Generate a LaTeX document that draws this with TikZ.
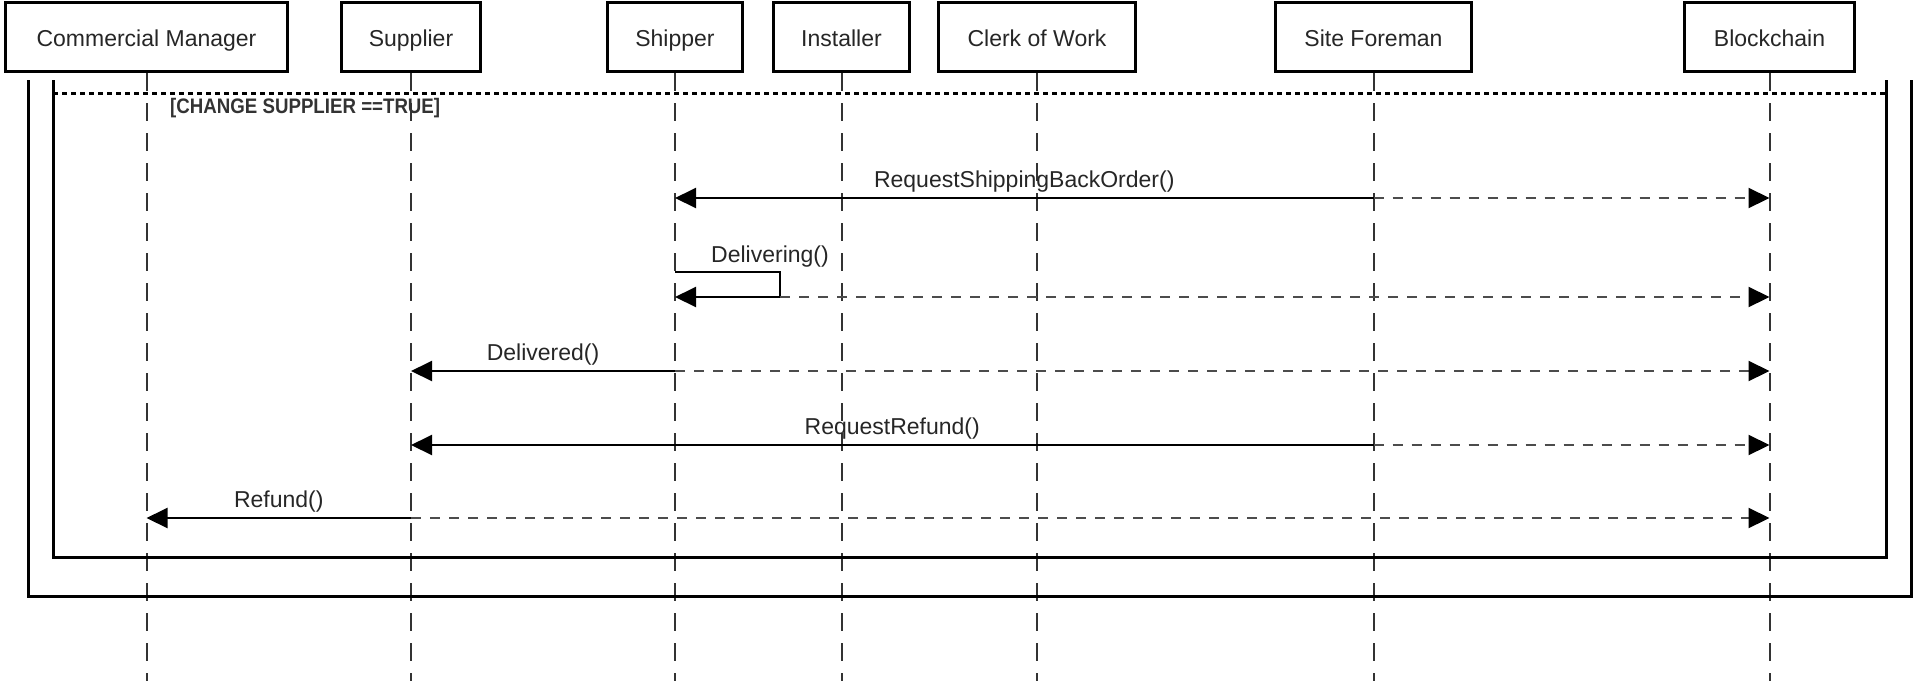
\documentclass[tikz,border=0pt]{standalone}
\usepackage{fontspec}
\setmainfont{Liberation Sans}
\newfontfamily\guardfont[FakeStretch=0.89]{Liberation Sans}
\usetikzlibrary{positioning, arrows.meta}

\begin{document}
\begin{tikzpicture}
        [
            x=1pt, y=-1pt,
            actor/.style = {draw, black, line width=3pt, minimum height=69pt, inner sep=0pt, text height=24pt, text depth=4.6pt, text=black!85, font=\fontsize{23}{27}\selectfont},
            lifeline/.style = {draw=black!80, line width=2pt, dash pattern=on 18pt off 12pt},
            frame/.style = {draw, black, line width=3pt},
            guardline/.style = {draw, black, line width=3pt, dash pattern=on 5pt off 4pt},
            msg/.style = {-{Triangle[length=21pt, width=20pt, black]}, line width=2pt, black},
            note/.style = {msg, draw=black!70, dash pattern=on 10pt off 9pt},
            msgtext/.style = {inner sep=0pt, text=black!85, font=\fontsize{23}{27}\selectfont},
            guard/.style = {inner sep=0pt, text=black!80, font=\guardfont\bfseries\fontsize{21}{25}\selectfont}
        ]%
        \useasboundingbox (0,0) rectangle (1913,681);
        \node[actor, minimum width=282pt] (cm) at (146.5,37) {Commercial Manager};
        \node[actor, minimum width=139pt, right=51pt of cm] (supplier) {Supplier};
        \node[actor, minimum width=135pt, right=124pt of supplier] (shipper) {Shipper};
        \node[actor, minimum width=136pt, right=28pt of shipper] (installer) {Installer};
        \node[actor, minimum width=197pt, right=26pt of installer] (clerk) {Clerk of Work};
        \node[actor, minimum width=196pt, right=137pt of clerk] (foreman) {Site Foreman};
        \node[actor, minimum width=170pt, right=210pt of foreman] (chain) {Blockchain};
        \coordinate (base) at (0,681);
        \foreach \p in {cm, supplier, shipper, installer, clerk, foreman, chain}
            \draw[lifeline] (\p.south) -- (\p.south |- base);
        % frames
        \draw[frame] (28,80) |- (1911,596) -- (1911,80);
        \draw[frame] (53,80) |- (1886,557) -- (1886,80);
        \draw[guardline] (53,93) -- (1886,93);
        \node[guard, anchor=west] (cond) at (170,108) {[CHANGE SUPPLIER ==TRUE]};
        % messages
        \coordinate (r1) at (0,198);
        \draw[msg] (foreman |- r1) -- node[msgtext, above=5pt] (l1) {RequestShippingBackOrder()} (shipper |- r1);
        \draw[note] (foreman |- r1) -- (chain |- r1);
        \coordinate (r2) at (0,272);
        \coordinate (turn) at (780,297);
        \draw[msg] (shipper |- r2) -| (turn) -- (shipper |- turn);
        \node[msgtext] (l2) at (770,257) {Delivering()};
        \draw[note] (turn) -- (chain |- turn);
        \coordinate (r3) at (0,371);
        \draw[msg] (shipper |- r3) -- node[msgtext, above=5pt] (l3) {Delivered()} (supplier |- r3);
        \draw[note] (shipper |- r3) -- (chain |- r3);
        \coordinate (r4) at (0,445);
        \draw[msg] (foreman |- r4) -- node[msgtext, above=5pt] (l4) {RequestRefund()} (supplier |- r4);
        \draw[note] (foreman |- r4) -- (chain |- r4);
        \coordinate (r5) at (0,518);
        \draw[msg] (supplier |- r5) -- node[msgtext, above=5pt] (l5) {Refund()} (cm |- r5);
        \draw[note] (supplier |- r5) -- (chain |- r5);
\end{tikzpicture}
\end{document}
